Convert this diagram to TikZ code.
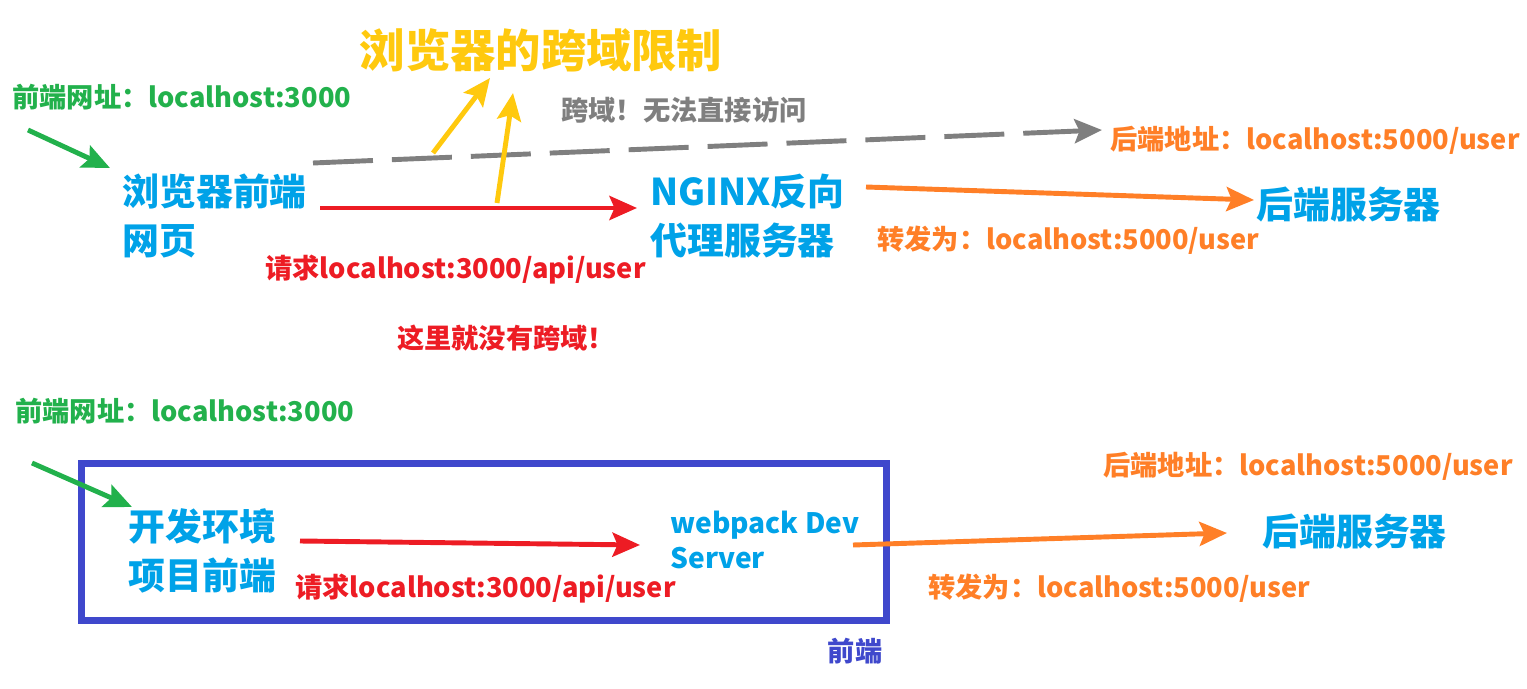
\documentclass[tikz,border=0pt]{standalone}
\usepackage{fontspec}
\setmainfont{Noto Sans CJK SC}
\usepackage{tikz}
\usetikzlibrary{arrows.meta}
\definecolor{okgreen}{RGB}{34,177,76}
\definecolor{skyblue}{RGB}{0,162,232}
\definecolor{hotred}{RGB}{237,28,36}
\definecolor{tangerine}{RGB}{255,127,39}
\definecolor{slate}{RGB}{127,127,127}
\definecolor{gold}{RGB}{255,201,14}
\definecolor{indigo}{RGB}{63,72,204}

\begin{document}
\begin{tikzpicture}[
  x=0.02cm, y=-0.02cm,
  big/.style={font=\bfseries\fontsize{21}{25}\selectfont, color=skyblue, align=left, anchor=west, inner sep=0pt},
  small/.style={font=\bfseries\fontsize{15.5}{18}\selectfont, anchor=west, inner sep=0pt},
  flow/.style={line width=2.8pt, -{Stealth[length=0.55cm, width=0.48cm, inset=0.1cm]}},
]
  \useasboundingbox (0,0) rectangle (1527,689);

  \node[font=\bfseries\fontsize{25.8}{30}\selectfont, color=gold, inner sep=0pt] (title) at (541,50) {浏览器的跨域限制};
  \node[small, color=okgreen] (url1) at (12,97) {前端网址：localhost:3000};
  \node[big] (browser) at (122,216) {浏览器前端\\[3pt]网页};
  \node[small, color=slate, anchor=center] (note) at (684,110) {跨域！无法直接访问};
  \node[small, color=tangerine] (addr1) at (1110,140) {后端地址：localhost:5000/user};
  \node[big] (nginx) at (650,216) {NGINX反向\\[3pt]代理服务器};
  \node[big] (server1) at (1256,205) {后端服务器};
  \node[small, color=tangerine] (fwd1) at (877,240) {转发为：localhost:5000/user};
  \node[small, color=hotred] (req1) at (265,270) {请求localhost:3000/api/user};
  \node[small, color=hotred, anchor=center] (nocross) at (506,338) {这里就没有跨域！};

  \coordinate (g1s) at (28,130);   \coordinate (g1e) at (110,168);
  \coordinate (d1s) at (313,163);  \coordinate (d1e) at (1102,130);
  \coordinate (r1s) at (320,208);  \coordinate (r1e) at (637,208);
  \coordinate (y1s) at (433,153);  \coordinate (y1e) at (490,78);
  \coordinate (y2s) at (497,203);  \coordinate (y2e) at (513,93);
  \coordinate (o1s) at (866,187);  \coordinate (o1e) at (1254,200);

  \draw[flow, okgreen] (g1s) -- (g1e);
  \draw[flow, slate, dash pattern=on 1.2cm off 0.38cm] (d1s) -- (d1e);
  \draw[flow, hotred] (r1s) -- (r1e);
  \draw[flow, gold] (y1s) -- (y1e);
  \draw[flow, gold] (y2s) -- (y2e);
  \draw[flow, tangerine] (o1s) -- (o1e);

  \node[small, color=okgreen] (url2) at (15,411) {前端网址：localhost:3000};
  \node[draw=indigo, line width=3.6pt, minimum width=16.1cm, minimum height=3.14cm, inner sep=0pt] (devbox) at (484,542) {};
  \node[big] (devproj) at (128,551) {开发环境\\[3pt]项目前端};
  \node[small, color=hotred] (req2) at (295,589) {请求localhost:3000/api/user};
  \node[font=\bfseries\fontsize{16}{20}\selectfont, color=skyblue, align=left, anchor=west, inner sep=0pt] (devserver) at (670,540) {webpack Dev\\Server};
  \node[small, color=tangerine] (addr2) at (1103,466) {后端地址：localhost:5000/user};
  \node[big] (server2) at (1262,532) {后端服务器};
  \node[small, color=tangerine] (fwd2) at (928,588) {转发为：localhost:5000/user};
  \node[small, color=indigo, anchor=center] (frontend) at (855,651) {前端};

  \coordinate (g2s) at (32,463);   \coordinate (g2e) at (132,507);
  \coordinate (r2s) at (300,541);  \coordinate (r2e) at (640,545);
  \coordinate (o2s) at (853,545);  \coordinate (o2e) at (1227,533);

  \draw[flow, okgreen] (g2s) -- (g2e);
  \draw[flow, hotred] (r2s) -- (r2e);
  \draw[flow, tangerine] (o2s) -- (o2e);
\end{tikzpicture}
\end{document}
